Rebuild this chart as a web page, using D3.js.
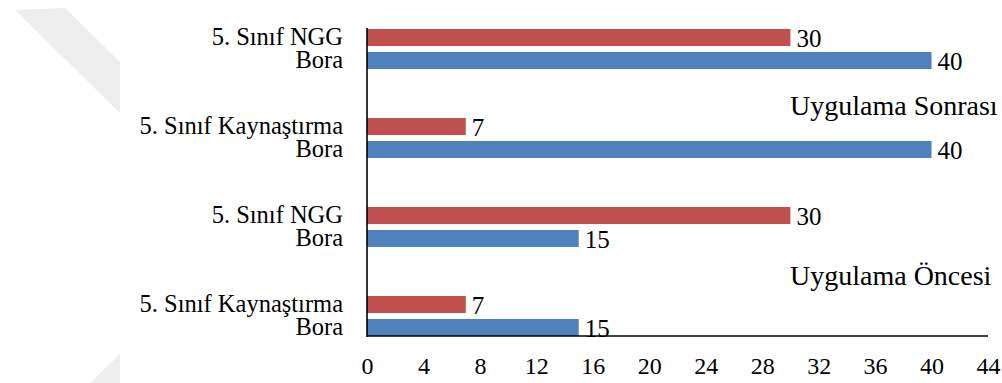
<!DOCTYPE html>
<html>
<head>
<meta charset="utf-8">
<script src="https://cdn.jsdelivr.net/npm/d3@7"></script>
<style>
  html, body { margin: 0; padding: 0; background: #ffffff; }
  svg { display: block; }
  text { font-family: "Liberation Serif", "DejaVu Serif", serif; fill: #000; }
</style>
</head>
<body>
<svg id="chart" width="1002" height="383"></svg>
<script>
// Group rows, top to bottom
const groups = ["5. Sınıf NGG", "5. Sınıf Kaynaştırma", "5. Sınıf NGG", "5. Sınıf Kaynaştırma"];
const seriesNames = ["Sınıf", "Bora"];
const classValues = [30, 7, 30, 7];
const boraValues = [40, 40, 15, 15];
const phaseNotes = ["Uygulama Sonrası", "Uygulama Öncesi"];
const xTicks = [0, 4, 8, 12, 16, 20, 24, 28, 32, 36, 40, 44];

const colors = { "Sınıf": "#C0504D", "Bora": "#4F81BD" };

const svg = d3.select("#chart");

// faint background page mark on the left margin
const bg = svg.append("g").attr("fill", "#eeeeee");
bg.append("path").attr("d", "M15,10 L65,8 L120,62 L120,113 Z");
bg.append("path").attr("d", "M90,383 L120,354 L120,383 Z");

const x = d3.scaleLinear().domain([0, 44]).range([367, 988]);
const y = d3.scaleBand().domain(d3.range(groups.length)).range([29, 336])
  .paddingInner(0.5506).paddingOuter(0);
const ySub = d3.scaleBand().domain(seriesNames).range([0, y.bandwidth()])
  .paddingInner(0.261).paddingOuter(0);

const rows = groups.map((g, i) => ({
  idx: i,
  label: g,
  values: [
    { series: "Sınıf", value: classValues[i], text: g },
    { series: "Bora", value: boraValues[i], text: "Bora" }
  ]
}));

const gRows = svg.append("g").selectAll("g").data(rows).join("g")
  .attr("transform", d => `translate(0,${y(d.idx)})`);

gRows.selectAll("rect").data(d => d.values).join("rect")
  .attr("x", x(0))
  .attr("y", d => ySub(d.series))
  .attr("width", d => x(d.value) - x(0))
  .attr("height", ySub.bandwidth())
  .attr("fill", d => colors[d.series]);

// value labels
gRows.selectAll("text.val").data(d => d.values).join("text")
  .attr("class", "val")
  .attr("x", d => x(d.value) + 6)
  .attr("y", d => ySub(d.series) + ySub.bandwidth() + 1)
  .attr("font-size", 25)
  .text(d => d.value);

// two-line category label per group, one line beside each bar
const cat = gRows.append("text")
  .attr("class", "cat")
  .attr("text-anchor", "end")
  .attr("font-size", 24.5);
cat.selectAll("tspan").data(d => d.values).join("tspan")
  .attr("x", 343)
  .attr("y", d => ySub(d.series) + ySub.bandwidth() - 1)
  .text(d => d.text);

// x axis tick labels (no tick marks)
const xAxis = d3.axisBottom(x).tickValues(xTicks).tickSize(0).tickPadding(0);
const ax = svg.append("g").attr("transform", "translate(0,374)").call(xAxis);
ax.select(".domain").remove();
ax.selectAll("text")
  .attr("dy", 0)
  .attr("font-size", 24)
  .attr("font-family", "Liberation Serif, DejaVu Serif, serif")
  .attr("fill", "#000");

// axis lines
svg.append("line").attr("x1", x(0)).attr("x2", x(0)).attr("y1", 28).attr("y2", 337)
  .attr("stroke", "#000").attr("stroke-width", 1.6);
svg.append("line").attr("x1", x(0)).attr("x2", x(44)).attr("y1", 336).attr("y2", 336)
  .attr("stroke", "#000").attr("stroke-width", 1.6);

// phase notes
const noteY = [115, 285];
svg.selectAll("text.note").data(phaseNotes).join("text")
  .attr("class", "note")
  .attr("x", 790)
  .attr("y", (d, i) => noteY[i])
  .attr("font-size", 28)
  .text(d => d);
</script>
</body>
</html>
